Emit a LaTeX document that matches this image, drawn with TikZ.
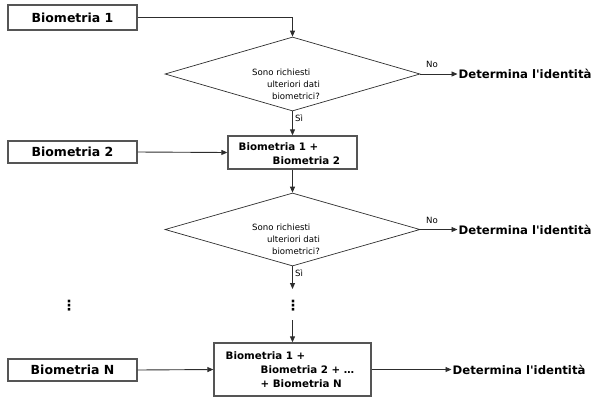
\documentclass[tikz,border=0pt]{standalone}
\usepackage{fontspec}
\setmainfont{DejaVu Sans}
\usetikzlibrary{shapes.geometric,arrows.meta}
\definecolor{boxgray}{RGB}{85,85,85}
\definecolor{linegray}{RGB}{45,45,45}
\begin{document}
\begin{tikzpicture}[x=1pt,y=-1pt,
  inbox/.style={draw=boxgray, line width=1.3pt, inner sep=0pt, minimum width=129pt,
    font=\fontsize{12.5}{14}\bfseries\selectfont},
  sumbox/.style={draw=boxgray, line width=1.3pt, inner sep=0pt, align=left,
    font=\fontsize{10.3}{14}\bfseries\selectfont},
  decision/.style={diamond, draw=linegray, line width=0.7pt, inner sep=0pt,
    minimum width=255pt, minimum height=74pt},
  dtext/.style={align=left, inner sep=0pt, font=\fontsize{8.6}{11.8}\selectfont},
  result/.style={anchor=west, inner sep=1pt, font=\fontsize{11.7}{14}\bfseries\selectfont},
  lbl/.style={inner sep=0pt, font=\fontsize{8.6}{10}\selectfont},
  vdots/.style={inner sep=0pt, font=\fontsize{14}{14}\bfseries\selectfont},
  arr/.style={draw=linegray, line width=0.9pt, -{Triangle[length=6pt,width=5pt]}}]
\useasboundingbox (0,0) rectangle (609,402);
% nodes
\node[inbox, minimum height=25pt] (b1) at (72.5,17.5) {Biometria 1};
\node[decision] (d1) at (292.5,74) {};
\node[dtext] (t1) at (286,84) {Sono richiesti\\\hspace*{15pt}ulteriori dati\\\hspace*{20pt}biometrici?};
\node[result] (e1) at (457.5,74) {Determina l\textquotesingle identità};
\node[lbl, anchor=south west] (no1) at (426,68) {No};
\node[lbl, anchor=west] (si1) at (295,118) {Sì};

\node[inbox, minimum height=22pt] (b2) at (72.5,152) {Biometria 2};
\node[sumbox, minimum width=129pt, minimum height=33pt] (bx2) at (292.5,152.5) {};
\node[sumbox, draw=none, anchor=west] (tx2) at (238,153.5)
  {Biometria 1 +\\\hspace*{34pt}Biometria 2};

\node[decision, minimum height=73pt] (d2) at (292.5,229.5) {};
\node[dtext] (t2) at (286,239.5) {Sono richiesti\\\hspace*{15pt}ulteriori dati\\\hspace*{20pt}biometrici?};
\node[result] (e2) at (457.5,229.5) {Determina l\textquotesingle identità};
\node[lbl, anchor=south west] (no2) at (426,223.5) {No};
\node[lbl, anchor=west] (si2) at (295,273) {Sì};

\coordinate (c1) at (292.5,289);
\node[vdots] (dots1) at (293,306) {⋮};
\coordinate (c2) at (292.5,320);
\node[vdots] (dots2) at (69,306) {⋮};

\node[inbox, minimum height=22pt] (bN) at (72.5,370) {Biometria N};
\node[sumbox, minimum width=157pt, minimum height=53pt] (bx3) at (292.5,369.5) {};
\node[sumbox, draw=none, anchor=west] (tx3) at (225,369.5)
  {Biometria 1 +\\\hspace*{35pt}Biometria 2 + …\\\hspace*{35pt}+ Biometria N};
\node[result] (e3) at (451.5,369.5) {Determina l\textquotesingle identità};

% connectors
\draw[arr] (b1.east) -| (d1.north);
\draw[arr] (d1.east) -- (e1.west);
\draw[arr] (d1.south) -- (bx2.north);
\draw[arr] (b2.east) -- (bx2.west);
\draw[arr] (bx2.south) -- (d2.north);
\draw[arr] (d2.east) -- (e2.west);
\draw[arr] (d2.south) -- (c1);
\draw[arr] (c2) -- (bx3.north);
\draw[arr] (bN.east) -- (bx3.west);
\draw[arr] (bx3.east) -- (e3.west);
\end{tikzpicture}
\end{document}
